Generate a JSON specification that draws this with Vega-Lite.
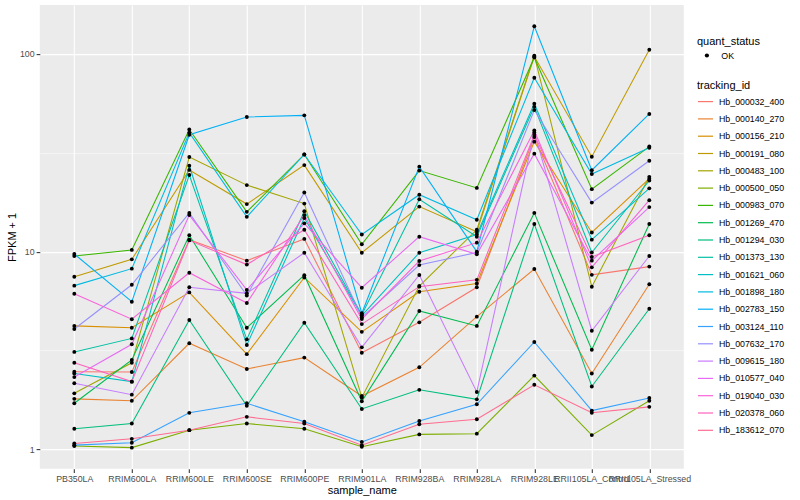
{
"$schema": "https://vega.github.io/schema/vega-lite/v6.json",
"width": 644,
"height": 463.6,
"autosize": {"type": "none"},
"padding": {"left": 39.8, "top": 5.1, "right": 116.2, "bottom": 31.3},
"background": "white",
"config": {
  "font": "Liberation Sans",
  "view": {"fill": "#EBEBEB", "stroke": null},
  "axis": {"gridColor": "white", "gridWidth": 1.07, "domain": false, "tickColor": "#333333", "tickSize": 3.7, "tickWidth": 1.07, "labelColor": "#4D4D4D", "labelFontSize": 8.8, "titleFontSize": 11, "titleFontWeight": "normal", "titleColor": "black", "labelFont": "Liberation Sans", "titleFont": "Liberation Sans"},
  "legend": {"titleFontSize": 11, "titleFontWeight": "normal", "titleColor": "black", "labelFontSize": 8.8, "labelColor": "black", "titleFont": "Liberation Sans", "labelFont": "Liberation Sans", "padding": 0, "titlePadding": 4}
},
"data": {"values": [
{"tracking_id":"Hb_000032_400","sample_name":"PB350LA","fpkm_plus_1":2.47,"quant_status":"OK"},
{"tracking_id":"Hb_000032_400","sample_name":"RRIM600LA","fpkm_plus_1":2.46,"quant_status":"OK"},
{"tracking_id":"Hb_000032_400","sample_name":"RRIM600LE","fpkm_plus_1":11.5,"quant_status":"OK"},
{"tracking_id":"Hb_000032_400","sample_name":"RRIM600SE","fpkm_plus_1":9.0,"quant_status":"OK"},
{"tracking_id":"Hb_000032_400","sample_name":"RRIM600PE","fpkm_plus_1":11.6,"quant_status":"OK"},
{"tracking_id":"Hb_000032_400","sample_name":"RRIM901LA","fpkm_plus_1":3.08,"quant_status":"OK"},
{"tracking_id":"Hb_000032_400","sample_name":"RRIM928BA","fpkm_plus_1":4.39,"quant_status":"OK"},
{"tracking_id":"Hb_000032_400","sample_name":"RRIM928LA","fpkm_plus_1":6.6,"quant_status":"OK"},
{"tracking_id":"Hb_000032_400","sample_name":"RRIM928LE","fpkm_plus_1":38,"quant_status":"OK"},
{"tracking_id":"Hb_000032_400","sample_name":"RRII105LA_Control","fpkm_plus_1":7.63,"quant_status":"OK"},
{"tracking_id":"Hb_000032_400","sample_name":"RRII105LA_Stressed","fpkm_plus_1":8.4,"quant_status":"OK"},
{"tracking_id":"Hb_000140_270","sample_name":"PB350LA","fpkm_plus_1":1.80,"quant_status":"OK"},
{"tracking_id":"Hb_000140_270","sample_name":"RRIM600LA","fpkm_plus_1":1.76,"quant_status":"OK"},
{"tracking_id":"Hb_000140_270","sample_name":"RRIM600LE","fpkm_plus_1":3.44,"quant_status":"OK"},
{"tracking_id":"Hb_000140_270","sample_name":"RRIM600SE","fpkm_plus_1":2.55,"quant_status":"OK"},
{"tracking_id":"Hb_000140_270","sample_name":"RRIM600PE","fpkm_plus_1":2.91,"quant_status":"OK"},
{"tracking_id":"Hb_000140_270","sample_name":"RRIM901LA","fpkm_plus_1":1.86,"quant_status":"OK"},
{"tracking_id":"Hb_000140_270","sample_name":"RRIM928BA","fpkm_plus_1":2.6,"quant_status":"OK"},
{"tracking_id":"Hb_000140_270","sample_name":"RRIM928LA","fpkm_plus_1":4.69,"quant_status":"OK"},
{"tracking_id":"Hb_000140_270","sample_name":"RRIM928LE","fpkm_plus_1":8.17,"quant_status":"OK"},
{"tracking_id":"Hb_000140_270","sample_name":"RRII105LA_Control","fpkm_plus_1":2.42,"quant_status":"OK"},
{"tracking_id":"Hb_000140_270","sample_name":"RRII105LA_Stressed","fpkm_plus_1":6.84,"quant_status":"OK"},
{"tracking_id":"Hb_000156_210","sample_name":"PB350LA","fpkm_plus_1":4.21,"quant_status":"OK"},
{"tracking_id":"Hb_000156_210","sample_name":"RRIM600LA","fpkm_plus_1":4.12,"quant_status":"OK"},
{"tracking_id":"Hb_000156_210","sample_name":"RRIM600LE","fpkm_plus_1":6.22,"quant_status":"OK"},
{"tracking_id":"Hb_000156_210","sample_name":"RRIM600SE","fpkm_plus_1":3.03,"quant_status":"OK"},
{"tracking_id":"Hb_000156_210","sample_name":"RRIM600PE","fpkm_plus_1":7.4,"quant_status":"OK"},
{"tracking_id":"Hb_000156_210","sample_name":"RRIM901LA","fpkm_plus_1":3.93,"quant_status":"OK"},
{"tracking_id":"Hb_000156_210","sample_name":"RRIM928BA","fpkm_plus_1":6.27,"quant_status":"OK"},
{"tracking_id":"Hb_000156_210","sample_name":"RRIM928LA","fpkm_plus_1":6.9,"quant_status":"OK"},
{"tracking_id":"Hb_000156_210","sample_name":"RRIM928LE","fpkm_plus_1":36,"quant_status":"OK"},
{"tracking_id":"Hb_000156_210","sample_name":"RRII105LA_Control","fpkm_plus_1":12.5,"quant_status":"OK"},
{"tracking_id":"Hb_000156_210","sample_name":"RRII105LA_Stressed","fpkm_plus_1":23.4,"quant_status":"OK"},
{"tracking_id":"Hb_000191_080","sample_name":"PB350LA","fpkm_plus_1":7.46,"quant_status":"OK"},
{"tracking_id":"Hb_000191_080","sample_name":"RRIM600LA","fpkm_plus_1":9.14,"quant_status":"OK"},
{"tracking_id":"Hb_000191_080","sample_name":"RRIM600LE","fpkm_plus_1":25.9,"quant_status":"OK"},
{"tracking_id":"Hb_000191_080","sample_name":"RRIM600SE","fpkm_plus_1":17.4,"quant_status":"OK"},
{"tracking_id":"Hb_000191_080","sample_name":"RRIM600PE","fpkm_plus_1":27.4,"quant_status":"OK"},
{"tracking_id":"Hb_000191_080","sample_name":"RRIM901LA","fpkm_plus_1":9.87,"quant_status":"OK"},
{"tracking_id":"Hb_000191_080","sample_name":"RRIM928BA","fpkm_plus_1":16.9,"quant_status":"OK"},
{"tracking_id":"Hb_000191_080","sample_name":"RRIM928LA","fpkm_plus_1":12.6,"quant_status":"OK"},
{"tracking_id":"Hb_000191_080","sample_name":"RRIM928LE","fpkm_plus_1":97,"quant_status":"OK"},
{"tracking_id":"Hb_000191_080","sample_name":"RRII105LA_Control","fpkm_plus_1":30.2,"quant_status":"OK"},
{"tracking_id":"Hb_000191_080","sample_name":"RRII105LA_Stressed","fpkm_plus_1":105,"quant_status":"OK"},
{"tracking_id":"Hb_000483_100","sample_name":"PB350LA","fpkm_plus_1":1.92,"quant_status":"OK"},
{"tracking_id":"Hb_000483_100","sample_name":"RRIM600LA","fpkm_plus_1":2.74,"quant_status":"OK"},
{"tracking_id":"Hb_000483_100","sample_name":"RRIM600LE","fpkm_plus_1":30.1,"quant_status":"OK"},
{"tracking_id":"Hb_000483_100","sample_name":"RRIM600SE","fpkm_plus_1":21.7,"quant_status":"OK"},
{"tracking_id":"Hb_000483_100","sample_name":"RRIM600PE","fpkm_plus_1":17.5,"quant_status":"OK"},
{"tracking_id":"Hb_000483_100","sample_name":"RRIM901LA","fpkm_plus_1":1.83,"quant_status":"OK"},
{"tracking_id":"Hb_000483_100","sample_name":"RRIM928BA","fpkm_plus_1":6.7,"quant_status":"OK"},
{"tracking_id":"Hb_000483_100","sample_name":"RRIM928LA","fpkm_plus_1":12.9,"quant_status":"OK"},
{"tracking_id":"Hb_000483_100","sample_name":"RRIM928LE","fpkm_plus_1":98,"quant_status":"OK"},
{"tracking_id":"Hb_000483_100","sample_name":"RRII105LA_Control","fpkm_plus_1":6.64,"quant_status":"OK"},
{"tracking_id":"Hb_000483_100","sample_name":"RRII105LA_Stressed","fpkm_plus_1":23.9,"quant_status":"OK"},
{"tracking_id":"Hb_000500_050","sample_name":"PB350LA","fpkm_plus_1":1.04,"quant_status":"OK"},
{"tracking_id":"Hb_000500_050","sample_name":"RRIM600LA","fpkm_plus_1":1.02,"quant_status":"OK"},
{"tracking_id":"Hb_000500_050","sample_name":"RRIM600LE","fpkm_plus_1":1.25,"quant_status":"OK"},
{"tracking_id":"Hb_000500_050","sample_name":"RRIM600SE","fpkm_plus_1":1.35,"quant_status":"OK"},
{"tracking_id":"Hb_000500_050","sample_name":"RRIM600PE","fpkm_plus_1":1.27,"quant_status":"OK"},
{"tracking_id":"Hb_000500_050","sample_name":"RRIM901LA","fpkm_plus_1":1.03,"quant_status":"OK"},
{"tracking_id":"Hb_000500_050","sample_name":"RRIM928BA","fpkm_plus_1":1.19,"quant_status":"OK"},
{"tracking_id":"Hb_000500_050","sample_name":"RRIM928LA","fpkm_plus_1":1.20,"quant_status":"OK"},
{"tracking_id":"Hb_000500_050","sample_name":"RRIM928LE","fpkm_plus_1":2.36,"quant_status":"OK"},
{"tracking_id":"Hb_000500_050","sample_name":"RRII105LA_Control","fpkm_plus_1":1.18,"quant_status":"OK"},
{"tracking_id":"Hb_000500_050","sample_name":"RRII105LA_Stressed","fpkm_plus_1":1.76,"quant_status":"OK"},
{"tracking_id":"Hb_000983_070","sample_name":"PB350LA","fpkm_plus_1":9.5,"quant_status":"OK"},
{"tracking_id":"Hb_000983_070","sample_name":"RRIM600LA","fpkm_plus_1":10.2,"quant_status":"OK"},
{"tracking_id":"Hb_000983_070","sample_name":"RRIM600LE","fpkm_plus_1":41.5,"quant_status":"OK"},
{"tracking_id":"Hb_000983_070","sample_name":"RRIM600SE","fpkm_plus_1":15.9,"quant_status":"OK"},
{"tracking_id":"Hb_000983_070","sample_name":"RRIM600PE","fpkm_plus_1":31,"quant_status":"OK"},
{"tracking_id":"Hb_000983_070","sample_name":"RRIM901LA","fpkm_plus_1":10.9,"quant_status":"OK"},
{"tracking_id":"Hb_000983_070","sample_name":"RRIM928BA","fpkm_plus_1":25.7,"quant_status":"OK"},
{"tracking_id":"Hb_000983_070","sample_name":"RRIM928LA","fpkm_plus_1":21,"quant_status":"OK"},
{"tracking_id":"Hb_000983_070","sample_name":"RRIM928LE","fpkm_plus_1":96,"quant_status":"OK"},
{"tracking_id":"Hb_000983_070","sample_name":"RRII105LA_Control","fpkm_plus_1":20.7,"quant_status":"OK"},
{"tracking_id":"Hb_000983_070","sample_name":"RRII105LA_Stressed","fpkm_plus_1":34,"quant_status":"OK"},
{"tracking_id":"Hb_001269_470","sample_name":"PB350LA","fpkm_plus_1":1.71,"quant_status":"OK"},
{"tracking_id":"Hb_001269_470","sample_name":"RRIM600LA","fpkm_plus_1":2.83,"quant_status":"OK"},
{"tracking_id":"Hb_001269_470","sample_name":"RRIM600LE","fpkm_plus_1":12.1,"quant_status":"OK"},
{"tracking_id":"Hb_001269_470","sample_name":"RRIM600SE","fpkm_plus_1":4.12,"quant_status":"OK"},
{"tracking_id":"Hb_001269_470","sample_name":"RRIM600PE","fpkm_plus_1":7.6,"quant_status":"OK"},
{"tracking_id":"Hb_001269_470","sample_name":"RRIM901LA","fpkm_plus_1":1.75,"quant_status":"OK"},
{"tracking_id":"Hb_001269_470","sample_name":"RRIM928BA","fpkm_plus_1":5.01,"quant_status":"OK"},
{"tracking_id":"Hb_001269_470","sample_name":"RRIM928LA","fpkm_plus_1":4.21,"quant_status":"OK"},
{"tracking_id":"Hb_001269_470","sample_name":"RRIM928LE","fpkm_plus_1":15.7,"quant_status":"OK"},
{"tracking_id":"Hb_001269_470","sample_name":"RRII105LA_Control","fpkm_plus_1":3.19,"quant_status":"OK"},
{"tracking_id":"Hb_001269_470","sample_name":"RRII105LA_Stressed","fpkm_plus_1":13.8,"quant_status":"OK"},
{"tracking_id":"Hb_001294_030","sample_name":"PB350LA","fpkm_plus_1":1.27,"quant_status":"OK"},
{"tracking_id":"Hb_001294_030","sample_name":"RRIM600LA","fpkm_plus_1":1.35,"quant_status":"OK"},
{"tracking_id":"Hb_001294_030","sample_name":"RRIM600LE","fpkm_plus_1":4.51,"quant_status":"OK"},
{"tracking_id":"Hb_001294_030","sample_name":"RRIM600SE","fpkm_plus_1":1.66,"quant_status":"OK"},
{"tracking_id":"Hb_001294_030","sample_name":"RRIM600PE","fpkm_plus_1":4.37,"quant_status":"OK"},
{"tracking_id":"Hb_001294_030","sample_name":"RRIM901LA","fpkm_plus_1":1.60,"quant_status":"OK"},
{"tracking_id":"Hb_001294_030","sample_name":"RRIM928BA","fpkm_plus_1":2.0,"quant_status":"OK"},
{"tracking_id":"Hb_001294_030","sample_name":"RRIM928LA","fpkm_plus_1":1.79,"quant_status":"OK"},
{"tracking_id":"Hb_001294_030","sample_name":"RRIM928LE","fpkm_plus_1":13.8,"quant_status":"OK"},
{"tracking_id":"Hb_001294_030","sample_name":"RRII105LA_Control","fpkm_plus_1":2.08,"quant_status":"OK"},
{"tracking_id":"Hb_001294_030","sample_name":"RRII105LA_Stressed","fpkm_plus_1":5.14,"quant_status":"OK"},
{"tracking_id":"Hb_001373_130","sample_name":"PB350LA","fpkm_plus_1":3.11,"quant_status":"OK"},
{"tracking_id":"Hb_001373_130","sample_name":"RRIM600LA","fpkm_plus_1":3.64,"quant_status":"OK"},
{"tracking_id":"Hb_001373_130","sample_name":"RRIM600LE","fpkm_plus_1":24.4,"quant_status":"OK"},
{"tracking_id":"Hb_001373_130","sample_name":"RRIM600SE","fpkm_plus_1":3.6,"quant_status":"OK"},
{"tracking_id":"Hb_001373_130","sample_name":"RRIM600PE","fpkm_plus_1":16.0,"quant_status":"OK"},
{"tracking_id":"Hb_001373_130","sample_name":"RRIM901LA","fpkm_plus_1":4.8,"quant_status":"OK"},
{"tracking_id":"Hb_001373_130","sample_name":"RRIM928BA","fpkm_plus_1":18.4,"quant_status":"OK"},
{"tracking_id":"Hb_001373_130","sample_name":"RRIM928LA","fpkm_plus_1":11.9,"quant_status":"OK"},
{"tracking_id":"Hb_001373_130","sample_name":"RRIM928LE","fpkm_plus_1":54,"quant_status":"OK"},
{"tracking_id":"Hb_001373_130","sample_name":"RRII105LA_Control","fpkm_plus_1":9.9,"quant_status":"OK"},
{"tracking_id":"Hb_001373_130","sample_name":"RRII105LA_Stressed","fpkm_plus_1":22.9,"quant_status":"OK"},
{"tracking_id":"Hb_001621_060","sample_name":"PB350LA","fpkm_plus_1":2.42,"quant_status":"OK"},
{"tracking_id":"Hb_001621_060","sample_name":"RRIM600LA","fpkm_plus_1":2.20,"quant_status":"OK"},
{"tracking_id":"Hb_001621_060","sample_name":"RRIM600LE","fpkm_plus_1":27.2,"quant_status":"OK"},
{"tracking_id":"Hb_001621_060","sample_name":"RRIM600SE","fpkm_plus_1":3.37,"quant_status":"OK"},
{"tracking_id":"Hb_001621_060","sample_name":"RRIM600PE","fpkm_plus_1":14.8,"quant_status":"OK"},
{"tracking_id":"Hb_001621_060","sample_name":"RRIM901LA","fpkm_plus_1":4.75,"quant_status":"OK"},
{"tracking_id":"Hb_001621_060","sample_name":"RRIM928BA","fpkm_plus_1":9.87,"quant_status":"OK"},
{"tracking_id":"Hb_001621_060","sample_name":"RRIM928LA","fpkm_plus_1":12.2,"quant_status":"OK"},
{"tracking_id":"Hb_001621_060","sample_name":"RRIM928LE","fpkm_plus_1":56,"quant_status":"OK"},
{"tracking_id":"Hb_001621_060","sample_name":"RRII105LA_Control","fpkm_plus_1":11.5,"quant_status":"OK"},
{"tracking_id":"Hb_001621_060","sample_name":"RRII105LA_Stressed","fpkm_plus_1":20.9,"quant_status":"OK"},
{"tracking_id":"Hb_001898_180","sample_name":"PB350LA","fpkm_plus_1":6.73,"quant_status":"OK"},
{"tracking_id":"Hb_001898_180","sample_name":"RRIM600LA","fpkm_plus_1":8.2,"quant_status":"OK"},
{"tracking_id":"Hb_001898_180","sample_name":"RRIM600LE","fpkm_plus_1":40,"quant_status":"OK"},
{"tracking_id":"Hb_001898_180","sample_name":"RRIM600SE","fpkm_plus_1":15.0,"quant_status":"OK"},
{"tracking_id":"Hb_001898_180","sample_name":"RRIM600PE","fpkm_plus_1":31,"quant_status":"OK"},
{"tracking_id":"Hb_001898_180","sample_name":"RRIM901LA","fpkm_plus_1":12.2,"quant_status":"OK"},
{"tracking_id":"Hb_001898_180","sample_name":"RRIM928BA","fpkm_plus_1":19.4,"quant_status":"OK"},
{"tracking_id":"Hb_001898_180","sample_name":"RRIM928LA","fpkm_plus_1":14.5,"quant_status":"OK"},
{"tracking_id":"Hb_001898_180","sample_name":"RRIM928LE","fpkm_plus_1":75.8,"quant_status":"OK"},
{"tracking_id":"Hb_001898_180","sample_name":"RRII105LA_Control","fpkm_plus_1":24.7,"quant_status":"OK"},
{"tracking_id":"Hb_001898_180","sample_name":"RRII105LA_Stressed","fpkm_plus_1":33.5,"quant_status":"OK"},
{"tracking_id":"Hb_002783_150","sample_name":"PB350LA","fpkm_plus_1":9.73,"quant_status":"OK"},
{"tracking_id":"Hb_002783_150","sample_name":"RRIM600LA","fpkm_plus_1":5.58,"quant_status":"OK"},
{"tracking_id":"Hb_002783_150","sample_name":"RRIM600LE","fpkm_plus_1":39,"quant_status":"OK"},
{"tracking_id":"Hb_002783_150","sample_name":"RRIM600SE","fpkm_plus_1":48,"quant_status":"OK"},
{"tracking_id":"Hb_002783_150","sample_name":"RRIM600PE","fpkm_plus_1":48.9,"quant_status":"OK"},
{"tracking_id":"Hb_002783_150","sample_name":"RRIM901LA","fpkm_plus_1":4.88,"quant_status":"OK"},
{"tracking_id":"Hb_002783_150","sample_name":"RRIM928BA","fpkm_plus_1":26.9,"quant_status":"OK"},
{"tracking_id":"Hb_002783_150","sample_name":"RRIM928LA","fpkm_plus_1":10.0,"quant_status":"OK"},
{"tracking_id":"Hb_002783_150","sample_name":"RRIM928LE","fpkm_plus_1":138,"quant_status":"OK"},
{"tracking_id":"Hb_002783_150","sample_name":"RRII105LA_Control","fpkm_plus_1":25.8,"quant_status":"OK"},
{"tracking_id":"Hb_002783_150","sample_name":"RRII105LA_Stressed","fpkm_plus_1":49.7,"quant_status":"OK"},
{"tracking_id":"Hb_003124_110","sample_name":"PB350LA","fpkm_plus_1":1.05,"quant_status":"OK"},
{"tracking_id":"Hb_003124_110","sample_name":"RRIM600LA","fpkm_plus_1":1.08,"quant_status":"OK"},
{"tracking_id":"Hb_003124_110","sample_name":"RRIM600LE","fpkm_plus_1":1.53,"quant_status":"OK"},
{"tracking_id":"Hb_003124_110","sample_name":"RRIM600SE","fpkm_plus_1":1.71,"quant_status":"OK"},
{"tracking_id":"Hb_003124_110","sample_name":"RRIM600PE","fpkm_plus_1":1.38,"quant_status":"OK"},
{"tracking_id":"Hb_003124_110","sample_name":"RRIM901LA","fpkm_plus_1":1.09,"quant_status":"OK"},
{"tracking_id":"Hb_003124_110","sample_name":"RRIM928BA","fpkm_plus_1":1.39,"quant_status":"OK"},
{"tracking_id":"Hb_003124_110","sample_name":"RRIM928LA","fpkm_plus_1":1.69,"quant_status":"OK"},
{"tracking_id":"Hb_003124_110","sample_name":"RRIM928LE","fpkm_plus_1":3.49,"quant_status":"OK"},
{"tracking_id":"Hb_003124_110","sample_name":"RRII105LA_Control","fpkm_plus_1":1.57,"quant_status":"OK"},
{"tracking_id":"Hb_003124_110","sample_name":"RRII105LA_Stressed","fpkm_plus_1":1.82,"quant_status":"OK"},
{"tracking_id":"Hb_007632_170","sample_name":"PB350LA","fpkm_plus_1":4.06,"quant_status":"OK"},
{"tracking_id":"Hb_007632_170","sample_name":"RRIM600LA","fpkm_plus_1":6.8,"quant_status":"OK"},
{"tracking_id":"Hb_007632_170","sample_name":"RRIM600LE","fpkm_plus_1":15.7,"quant_status":"OK"},
{"tracking_id":"Hb_007632_170","sample_name":"RRIM600SE","fpkm_plus_1":6.0,"quant_status":"OK"},
{"tracking_id":"Hb_007632_170","sample_name":"RRIM600PE","fpkm_plus_1":19.9,"quant_status":"OK"},
{"tracking_id":"Hb_007632_170","sample_name":"RRIM901LA","fpkm_plus_1":4.65,"quant_status":"OK"},
{"tracking_id":"Hb_007632_170","sample_name":"RRIM928BA","fpkm_plus_1":8.55,"quant_status":"OK"},
{"tracking_id":"Hb_007632_170","sample_name":"RRIM928LA","fpkm_plus_1":9.9,"quant_status":"OK"},
{"tracking_id":"Hb_007632_170","sample_name":"RRIM928LE","fpkm_plus_1":52,"quant_status":"OK"},
{"tracking_id":"Hb_007632_170","sample_name":"RRII105LA_Control","fpkm_plus_1":17.7,"quant_status":"OK"},
{"tracking_id":"Hb_007632_170","sample_name":"RRII105LA_Stressed","fpkm_plus_1":28.8,"quant_status":"OK"},
{"tracking_id":"Hb_009615_180","sample_name":"PB350LA","fpkm_plus_1":2.16,"quant_status":"OK"},
{"tracking_id":"Hb_009615_180","sample_name":"RRIM600LA","fpkm_plus_1":1.89,"quant_status":"OK"},
{"tracking_id":"Hb_009615_180","sample_name":"RRIM600LE","fpkm_plus_1":6.6,"quant_status":"OK"},
{"tracking_id":"Hb_009615_180","sample_name":"RRIM600SE","fpkm_plus_1":6.15,"quant_status":"OK"},
{"tracking_id":"Hb_009615_180","sample_name":"RRIM600PE","fpkm_plus_1":9.87,"quant_status":"OK"},
{"tracking_id":"Hb_009615_180","sample_name":"RRIM901LA","fpkm_plus_1":3.28,"quant_status":"OK"},
{"tracking_id":"Hb_009615_180","sample_name":"RRIM928BA","fpkm_plus_1":7.62,"quant_status":"OK"},
{"tracking_id":"Hb_009615_180","sample_name":"RRIM928LA","fpkm_plus_1":1.95,"quant_status":"OK"},
{"tracking_id":"Hb_009615_180","sample_name":"RRIM928LE","fpkm_plus_1":40,"quant_status":"OK"},
{"tracking_id":"Hb_009615_180","sample_name":"RRII105LA_Control","fpkm_plus_1":3.98,"quant_status":"OK"},
{"tracking_id":"Hb_009615_180","sample_name":"RRII105LA_Stressed","fpkm_plus_1":9.5,"quant_status":"OK"},
{"tracking_id":"Hb_010577_040","sample_name":"PB350LA","fpkm_plus_1":2.32,"quant_status":"OK"},
{"tracking_id":"Hb_010577_040","sample_name":"RRIM600LA","fpkm_plus_1":3.40,"quant_status":"OK"},
{"tracking_id":"Hb_010577_040","sample_name":"RRIM600LE","fpkm_plus_1":15.3,"quant_status":"OK"},
{"tracking_id":"Hb_010577_040","sample_name":"RRIM600SE","fpkm_plus_1":6.4,"quant_status":"OK"},
{"tracking_id":"Hb_010577_040","sample_name":"RRIM600PE","fpkm_plus_1":13.9,"quant_status":"OK"},
{"tracking_id":"Hb_010577_040","sample_name":"RRIM901LA","fpkm_plus_1":6.57,"quant_status":"OK"},
{"tracking_id":"Hb_010577_040","sample_name":"RRIM928BA","fpkm_plus_1":11.9,"quant_status":"OK"},
{"tracking_id":"Hb_010577_040","sample_name":"RRIM928LA","fpkm_plus_1":9.7,"quant_status":"OK"},
{"tracking_id":"Hb_010577_040","sample_name":"RRIM928LE","fpkm_plus_1":31.3,"quant_status":"OK"},
{"tracking_id":"Hb_010577_040","sample_name":"RRII105LA_Control","fpkm_plus_1":9.0,"quant_status":"OK"},
{"tracking_id":"Hb_010577_040","sample_name":"RRII105LA_Stressed","fpkm_plus_1":16.8,"quant_status":"OK"},
{"tracking_id":"Hb_019040_030","sample_name":"PB350LA","fpkm_plus_1":6.12,"quant_status":"OK"},
{"tracking_id":"Hb_019040_030","sample_name":"RRIM600LA","fpkm_plus_1":4.55,"quant_status":"OK"},
{"tracking_id":"Hb_019040_030","sample_name":"RRIM600LE","fpkm_plus_1":7.82,"quant_status":"OK"},
{"tracking_id":"Hb_019040_030","sample_name":"RRIM600SE","fpkm_plus_1":5.5,"quant_status":"OK"},
{"tracking_id":"Hb_019040_030","sample_name":"RRIM600PE","fpkm_plus_1":15.3,"quant_status":"OK"},
{"tracking_id":"Hb_019040_030","sample_name":"RRIM901LA","fpkm_plus_1":4.56,"quant_status":"OK"},
{"tracking_id":"Hb_019040_030","sample_name":"RRIM928BA","fpkm_plus_1":8.96,"quant_status":"OK"},
{"tracking_id":"Hb_019040_030","sample_name":"RRIM928LA","fpkm_plus_1":11.1,"quant_status":"OK"},
{"tracking_id":"Hb_019040_030","sample_name":"RRIM928LE","fpkm_plus_1":41,"quant_status":"OK"},
{"tracking_id":"Hb_019040_030","sample_name":"RRII105LA_Control","fpkm_plus_1":8.33,"quant_status":"OK"},
{"tracking_id":"Hb_019040_030","sample_name":"RRII105LA_Stressed","fpkm_plus_1":18.2,"quant_status":"OK"},
{"tracking_id":"Hb_020378_060","sample_name":"PB350LA","fpkm_plus_1":2.74,"quant_status":"OK"},
{"tracking_id":"Hb_020378_060","sample_name":"RRIM600LA","fpkm_plus_1":2.20,"quant_status":"OK"},
{"tracking_id":"Hb_020378_060","sample_name":"RRIM600LE","fpkm_plus_1":11.4,"quant_status":"OK"},
{"tracking_id":"Hb_020378_060","sample_name":"RRIM600SE","fpkm_plus_1":8.6,"quant_status":"OK"},
{"tracking_id":"Hb_020378_060","sample_name":"RRIM600PE","fpkm_plus_1":12.9,"quant_status":"OK"},
{"tracking_id":"Hb_020378_060","sample_name":"RRIM901LA","fpkm_plus_1":4.3,"quant_status":"OK"},
{"tracking_id":"Hb_020378_060","sample_name":"RRIM928BA","fpkm_plus_1":6.65,"quant_status":"OK"},
{"tracking_id":"Hb_020378_060","sample_name":"RRIM928LA","fpkm_plus_1":7.2,"quant_status":"OK"},
{"tracking_id":"Hb_020378_060","sample_name":"RRIM928LE","fpkm_plus_1":39,"quant_status":"OK"},
{"tracking_id":"Hb_020378_060","sample_name":"RRII105LA_Control","fpkm_plus_1":9.4,"quant_status":"OK"},
{"tracking_id":"Hb_020378_060","sample_name":"RRII105LA_Stressed","fpkm_plus_1":12.1,"quant_status":"OK"},
{"tracking_id":"Hb_183612_070","sample_name":"PB350LA","fpkm_plus_1":1.07,"quant_status":"OK"},
{"tracking_id":"Hb_183612_070","sample_name":"RRIM600LA","fpkm_plus_1":1.13,"quant_status":"OK"},
{"tracking_id":"Hb_183612_070","sample_name":"RRIM600LE","fpkm_plus_1":1.25,"quant_status":"OK"},
{"tracking_id":"Hb_183612_070","sample_name":"RRIM600SE","fpkm_plus_1":1.46,"quant_status":"OK"},
{"tracking_id":"Hb_183612_070","sample_name":"RRIM600PE","fpkm_plus_1":1.35,"quant_status":"OK"},
{"tracking_id":"Hb_183612_070","sample_name":"RRIM901LA","fpkm_plus_1":1.05,"quant_status":"OK"},
{"tracking_id":"Hb_183612_070","sample_name":"RRIM928BA","fpkm_plus_1":1.34,"quant_status":"OK"},
{"tracking_id":"Hb_183612_070","sample_name":"RRIM928LA","fpkm_plus_1":1.42,"quant_status":"OK"},
{"tracking_id":"Hb_183612_070","sample_name":"RRIM928LE","fpkm_plus_1":2.12,"quant_status":"OK"},
{"tracking_id":"Hb_183612_070","sample_name":"RRII105LA_Control","fpkm_plus_1":1.53,"quant_status":"OK"},
{"tracking_id":"Hb_183612_070","sample_name":"RRII105LA_Stressed","fpkm_plus_1":1.64,"quant_status":"OK"}
]},
"layer": [
  {
    "mark": {"type": "line", "strokeWidth": 1.07},
    "encoding": {
      "x": {"field": "sample_name", "type": "nominal", "sort": ["PB350LA","RRIM600LA","RRIM600LE","RRIM600SE","RRIM600PE","RRIM901LA","RRIM928BA","RRIM928LA","RRIM928LE","RRII105LA_Control","RRII105LA_Stressed"], "scale": {"type": "point", "padding": 0.6}, "axis": {"title": "sample_name", "labelAngle": 0, "labelOverlap": false, "labelBound": false, "labelPadding": 2, "titlePadding": 1, "grid": true}},
      "y": {"field": "fpkm_plus_1", "type": "quantitative", "scale": {"type": "log", "domain": [0.798, 176.6], "nice": false}, "axis": {"title": "FPKM + 1", "values": [1, 10, 100], "format": "d", "grid": true, "labelPadding": 2, "titlePadding": 2}},
      "color": {"field": "tracking_id", "type": "nominal",
        "scale": {"domain": ["Hb_000032_400","Hb_000140_270","Hb_000156_210","Hb_000191_080","Hb_000483_100","Hb_000500_050","Hb_000983_070","Hb_001269_470","Hb_001294_030","Hb_001373_130","Hb_001621_060","Hb_001898_180","Hb_002783_150","Hb_003124_110","Hb_007632_170","Hb_009615_180","Hb_010577_040","Hb_019040_030","Hb_020378_060","Hb_183612_070"],
                  "range": ["#F8766D","#EA8331","#D89000","#C09B00","#A3A500","#7CAE00","#39B600","#00BB4E","#00BF7D","#00C1A3","#00BFC4","#00BAE0","#00B0F6","#35A2FF","#9590FF","#C77CFF","#E76BF3","#FA62DB","#FF62BC","#FF6C91"]},
        "legend": {"title": "tracking_id", "orient": "none", "legendX": 657.2, "legendY": 75, "symbolType": "stroke", "symbolSize": 225, "symbolStrokeWidth": 1.2, "rowPadding": 3.3, "labelOffset": 5, "titlePadding": 2}}
    }
  },
  {
    "mark": {"type": "point", "filled": true, "color": "black", "size": 15, "opacity": 1},
    "encoding": {
      "x": {"field": "sample_name", "type": "nominal", "sort": ["PB350LA","RRIM600LA","RRIM600LE","RRIM600SE","RRIM600PE","RRIM901LA","RRIM928BA","RRIM928LA","RRIM928LE","RRII105LA_Control","RRII105LA_Stressed"], "scale": {"type": "point", "padding": 0.6}},
      "y": {"field": "fpkm_plus_1", "type": "quantitative", "scale": {"type": "log", "domain": [0.798, 176.6], "nice": false}, "axis": {"orient": "right", "values": [3.1623, 31.623], "grid": true, "gridWidth": 0.53, "labels": false, "ticks": false, "domain": false, "title": null}},
      "shape": {"field": "quant_status", "type": "nominal", "scale": {"range": ["circle"]},
        "legend": {"title": "quant_status", "orient": "none", "legendX": 657.2, "legendY": 31, "symbolSize": 18, "symbolFillColor": "black", "symbolStrokeColor": "black", "symbolOffset": 5.5, "labelOffset": 10}}
    }
  }
],
"resolve": {"axis": {"y": "independent"}}
}
